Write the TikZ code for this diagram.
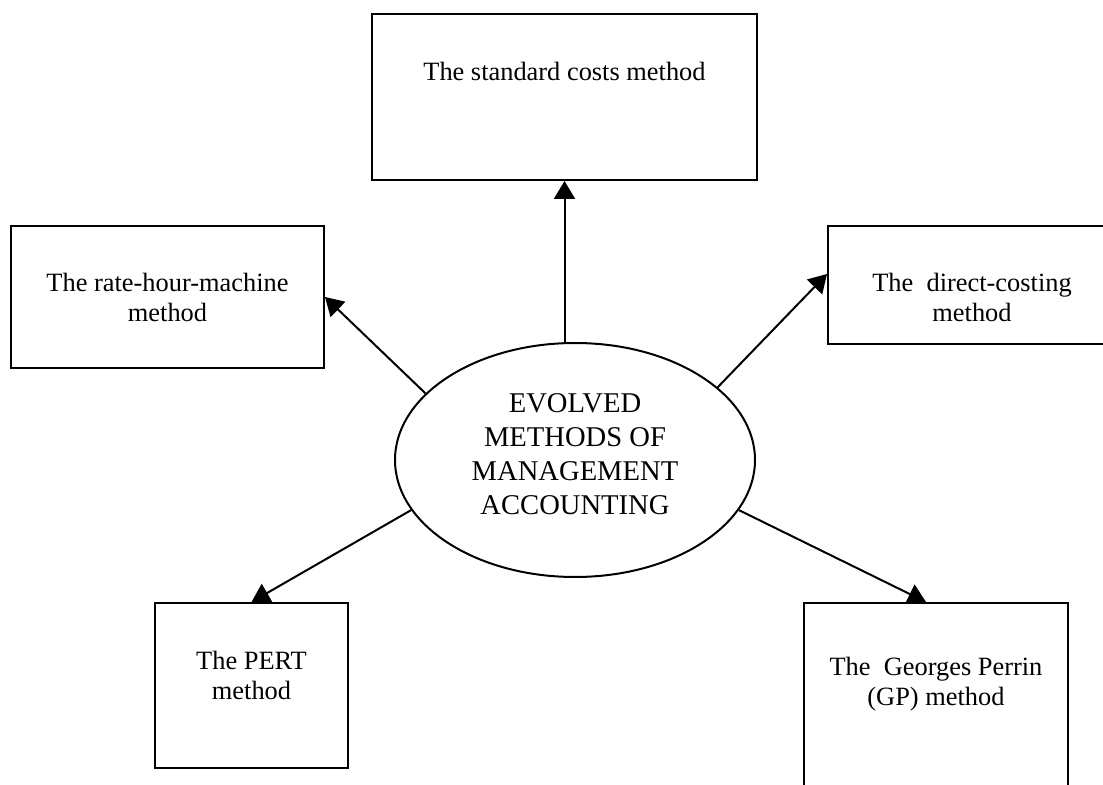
\documentclass[tikz,border=0pt]{standalone}
\usepackage{fontspec}
\setmainfont{Liberation Serif}
\usetikzlibrary{shapes.geometric,arrows.meta}

% text box: width, height, first baseline, text
\newcommand{\boxtext}[4]{\parbox[c][#2][t]{#1}{\centering\rule{0pt}{#3}#4}}

\begin{document}
\begin{tikzpicture}[x=0.5pt, y=-0.5pt,
    methodbox/.style={draw, line width=1pt, fill=white, inner sep=0pt, font=\fontsize{13.2}{15}\selectfont},
    corebox/.style={draw, ellipse, line width=1pt, inner sep=0pt, minimum width=180pt, minimum height=117pt,
        align=center, font=\fontsize{14.3}{16.9}\selectfont},
    linkarrow/.style={line width=1pt, -{Triangle[length=9pt, width=10.5pt]}}]
    \useasboundingbox (0,0) rectangle (1103,785);
    \clip (0,0) rectangle (1103,785);

    % centre, text sits a little high
    \node[corebox] (evm) at (575,460) {EVOLVED\\METHODS OF\\MANAGEMENT\\ACCOUNTING\rule[-6pt]{0pt}{6pt}};

    \node[methodbox] (std) at (564.5,97) {\boxtext{192.5pt}{83pt}{33.5pt}{The standard costs method}};
    \node[methodbox] (rhm) at (167.5,297) {\boxtext{156.5pt}{71pt}{33pt}{The rate-hour-machine\\method}};
    \node[methodbox] (dc) at (972,285) {\boxtext{144pt}{59pt}{33pt}{The~ direct-costing\\method}};
    \node[methodbox] (pert) at (251.5,685.5) {\boxtext{96.5pt}{82.5pt}{33pt}{The PERT\\method}};
    \node[methodbox] (gp) at (936,701.5) {\boxtext{132pt}{98.5pt}{36pt}{The~ Georges Perrin\\(GP) method}};

    \draw[linkarrow] (evm.north -| std.south) -- (std.south);
    \draw[linkarrow] (evm.156) -- (rhm.east);
    \draw[linkarrow] (evm.27) -- ([yshift=5.5pt]dc.west);
    \draw[linkarrow] (evm.197) -- (pert.north);
    \draw[linkarrow] (evm.343) -- ([xshift=-5pt]gp.north);
\end{tikzpicture}
\end{document}
